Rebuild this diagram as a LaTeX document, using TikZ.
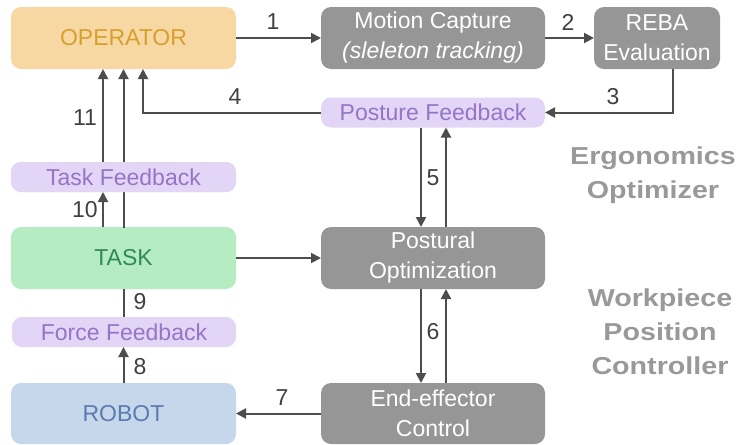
\documentclass[tikz,border=0pt]{standalone}
\usepackage{fontspec}
\setmainfont{Liberation Sans}
\newfontfamily\titlefont[FakeStretch=1.17]{Liberation Sans Bold}
\usetikzlibrary{arrows.meta,calc}
\definecolor{boxgray}{RGB}{150,150,150}
\definecolor{arrgray}{RGB}{77,77,77}
\definecolor{lblgray}{RGB}{64,64,64}
\definecolor{opfill}{RGB}{248,216,162}
\definecolor{optext}{RGB}{214,160,46}
\definecolor{lavfill}{RGB}{226,213,246}
\definecolor{lavtext}{RGB}{149,117,197}
\definecolor{grfill}{RGB}{181,236,193}
\definecolor{grtext}{RGB}{47,138,85}
\definecolor{blfill}{RGB}{198,214,235}
\definecolor{bltext}{RGB}{91,125,174}
\definecolor{titlegray}{RGB}{153,153,153}
\begin{document}
\begin{tikzpicture}[x=1pt,y=-1pt,
  every node/.style={inner sep=0pt,outer sep=0pt,font=\fontsize{23}{30}\selectfont},
  bigbox/.style={rectangle,rounded corners=10pt,minimum height=62pt,align=center},
  graybox/.style={bigbox,fill=boxgray,text=white},
  fbbox/.style={rectangle,rounded corners=10pt,minimum height=30pt,minimum width=224pt,fill=lavfill,text=lavtext},
  arr/.style={draw=arrgray,line width=2pt,-{Triangle[length=10pt,width=10pt]}},
  plain/.style={draw=arrgray,line width=2pt},
  lbl/.style={text=lblgray},
  title/.style={text=titlegray,font=\fontsize{24.5}{34}\titlefont,align=center}]
\useasboundingbox (0,0) rectangle (740,445);
% boxes
\node[bigbox,minimum width=225pt,fill=opfill,text=optext] (op) at (123.5,38) {OPERATOR};
\node[graybox,minimum width=224pt] (mc) at (433,38) {Motion Capture\\\textit{(sleleton tracking)}};
\node[graybox,minimum width=126pt] (reba) at (657,38) {REBA\\Evaluation};
\node[fbbox] (pfb) at (433,112.5) {Posture Feedback};
\node[fbbox,minimum width=225pt] (tfb) at (123.5,177) {Task Feedback};
\node[bigbox,minimum width=225pt,fill=grfill,text=grtext] (task) at (123.5,258) {TASK};
\node[graybox,minimum width=224pt] (po) at (433,258) {Postural\\Optimization};
\node[fbbox] (ffb) at (124,332) {Force Feedback};
\node[bigbox,minimum width=225pt,minimum height=61pt,fill=blfill,text=bltext] (rob) at (123.5,413.5) {ROBOT};
\node[graybox,minimum width=224pt,minimum height=61pt] (ee) at (433,413.5) {End-effector\\Control};
% titles
\node[title] (ergo) at (653,175) {Ergonomics\\Optimizer};
\node[title] (wpc) at (660,332) {Workpiece\\Position\\Controller};
% connectors
\draw[arr] (op.east) -- (mc.west);
\draw[arr] (mc.east) -- (reba.west);
\draw[arr] ([xshift=16pt]reba.south) |- (pfb.east);
\draw[arr] (pfb.west) -| ([xshift=19.5pt]op.south);
\draw[arr] ([xshift=-20.5pt]tfb.north) -- ([xshift=-20.5pt]op.south);
\draw[arr] ([xshift=-20.5pt]task.north) -- ([xshift=-20.5pt]tfb.south);
\draw[arr] ([xshift=-12pt]pfb.south) -- ([xshift=-12pt]po.north);
\draw[arr] ([xshift=13pt]po.north) -- ([xshift=13pt]pfb.south);
\draw[arr] (task.east) -- (po.west);
\draw[arr] ([xshift=-12pt]po.south) -- ([xshift=-12pt]ee.north);
\draw[arr] ([xshift=13pt]ee.north) -- ([xshift=13pt]po.south);
\draw[arr] (ee.west) -- (rob.east);
\draw[arr] (rob.north) -- (ffb.south -| rob.north);
\draw[plain] (ffb.north -| task.south) -- (task.south);
\draw[arr] ([yshift=-1pt]task.north) -- (op.south);
\node[fbbox,minimum width=225pt] (tfbtop) at (tfb) {Task Feedback};
% labels
\node[lbl] (l1) at (273,22) {1};
\node[lbl] (l2) at (568,22) {2};
\node[lbl] (l3) at (613,97) {3};
\node[lbl] (l4) at (235,97) {4};
\node[lbl] (l5) at (433,178) {5};
\node[lbl] (l6) at (433,332) {6};
\node[lbl] (l7) at (282,398) {7};
\node[lbl] (l8) at (140,367) {8};
\node[lbl] (l9) at (140,302) {9};
\node[lbl] (l10) at (85,210) {10};
\node[lbl] (l11) at (85,118) {11};
\end{tikzpicture}
\end{document}
